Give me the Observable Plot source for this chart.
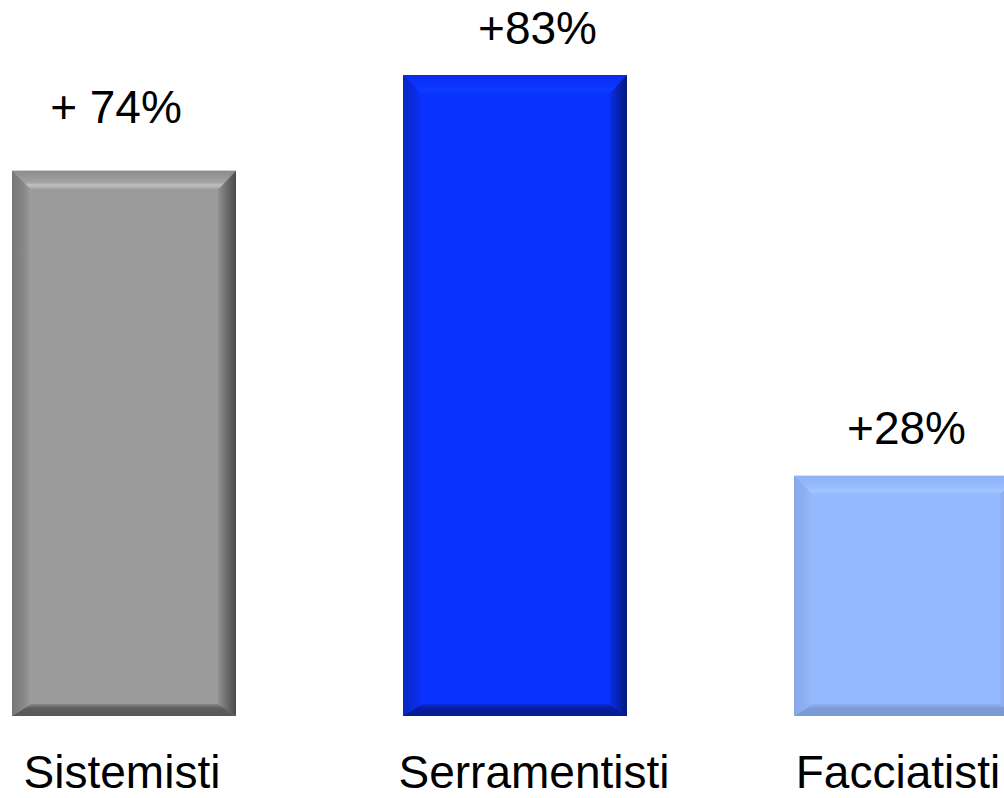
<!DOCTYPE html>
<html>
<head>
<meta charset="utf-8">
<script src="https://cdn.jsdelivr.net/npm/d3@7"></script>
<script src="https://cdn.jsdelivr.net/npm/@observablehq/plot@0.6"></script>
<style>
  html, body { margin: 0; padding: 0; background: #ffffff; overflow: hidden; }
  #chart svg { display: block; }
</style>
</head>
<body>
<div id="chart"></div>
<script>
// ---- data ----
const categories = ["Sistemisti", "Serramentisti", "Facciatisti"];
const barHeights = [74, 87, 32.6];          // bar heights
const valueLabels = ["+ 74%", "+83%", "+28%"];
// ---- styles ----
const barColors = ["#9b9b9b", "#0a32ff", "#95b9ff"];
const bevelShade = [1, 1, 0.35];

const data = categories.map((c, i) => ({
  cat: c, h: barHeights[i], label: valueLabels[i], color: barColors[i], shade: bevelShade[i]
}));

const font = "Liberation Sans, Arial, Helvetica, sans-serif";
const fs = 46;

const valueText = (i, dx, dy) => Plot.text([data[i]], {
  x: "cat", y: "h", text: "label", dx, dy,
  fontSize: fs, fontFamily: font, fill: "#000"
});
const catText = (i, dx) => Plot.text([data[i]], {
  x: "cat", y: () => 0, text: "cat", dx, dy: 57,
  fontSize: fs, fontFamily: font, fill: "#000"
});

const svg = Plot.plot({
  width: 1004,
  height: 798,
  margin: 0,
  style: { background: "#ffffff", overflow: "visible" },
  x: { domain: categories, range: [11, 1020], paddingInner: 0.426, paddingOuter: 0, axis: null },
  y: { domain: [0, 87], range: [716, 75], axis: null },
  color: { type: "identity" },
  marks: [
    Plot.barY(data, { x: "cat", y: "h", fill: "color" }),
    valueText(0, -8.5, -62.7),
    valueText(1, 22, -46.7),
    valueText(2, 0, -47.5),
    catText(0, -2.5),
    catText(1, 18.5),
    catText(2, -8.5)
  ]
});

// ---- bevel decoration on the rendered bars ----
const ns = "http://www.w3.org/2000/svg";
const defs = document.createElementNS(ns, "defs");
svg.insertBefore(defs, svg.firstChild);
let gid = 0;
function grad(x1, y1, x2, y2, stops) {
  const g = document.createElementNS(ns, "linearGradient");
  const id = "bev" + (gid++);
  g.setAttribute("id", id);
  g.setAttribute("x1", x1); g.setAttribute("y1", y1);
  g.setAttribute("x2", x2); g.setAttribute("y2", y2);
  for (const [o, c] of stops) {
    const s = document.createElementNS(ns, "stop");
    s.setAttribute("offset", o);
    s.setAttribute("stop-color", c);
    g.appendChild(s);
  }
  defs.appendChild(g);
  return `url(#${id})`;
}
const rects = svg.querySelectorAll('g[aria-label="bar"] rect');
rects.forEach((r, i) => {
  const d = data[i];
  const k = d.shade;
  const base = d3.color(d.color);
  const dk = (v) => base.darker(v * k).formatHex();
  const br = (v) => base.brighter(v * k).formatHex();
  const x = +r.getAttribute("x"), y = +r.getAttribute("y");
  const w = +r.getAttribute("width"), h = +r.getAttribute("height");
  const bl = 19, brt = 18, bt = 19, bb = 12;
  const O = [[x, y], [x + w, y], [x + w, y + h], [x, y + h]];
  const I = [[x + bl, y + bt], [x + w - brt, y + bt], [x + w - brt, y + h - bb], [x + bl, y + h - bb]];
  const polys = [
    { pts: [O[0], O[1], I[1], I[0]], fill: grad(0, 0, 0, 1, [[0, dk(0.3)], [0.5, br(0.05)], [0.62, br(0.15)], [0.75, br(0.6)], [0.85, br(0.4)], [1, base.formatHex()]]) },
    { pts: [O[1], O[2], I[2], I[1]], fill: grad(0, 0, 1, 0, [[0, dk(0.2)], [0.45, dk(0.9)], [1, dk(2.1)]]) },
    { pts: [O[2], O[3], I[3], I[2]], fill: grad(0, 0, 0, 1, [[0, dk(0.4)], [0.2, dk(0.9)], [0.35, dk(1.4)], [1, dk(1.6)]]) },
    { pts: [O[3], O[0], I[0], I[3]], fill: grad(0, 0, 1, 0, [[0, dk(0.75)], [0.5, dk(0.45)], [0.85, dk(0.15)], [1, br(0.1)]]) }
  ];
  const g = r.parentNode;
  for (const p of polys) {
    const poly = document.createElementNS(ns, "polygon");
    poly.setAttribute("points", p.pts.map(q => q.join(",")).join(" "));
    poly.setAttribute("fill", p.fill);
    g.appendChild(poly);
  }
});

document.getElementById("chart").appendChild(svg);
</script>
</body>
</html>
